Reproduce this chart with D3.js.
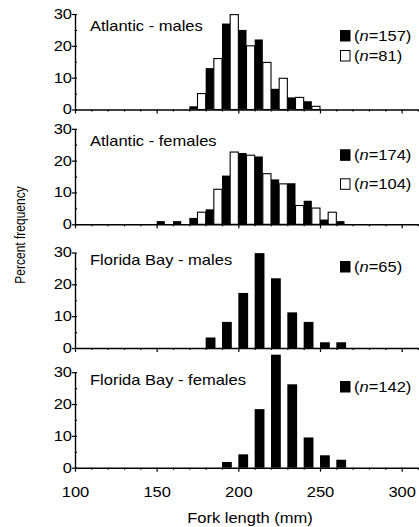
<!DOCTYPE html>
<html>
  <head>
    <meta charset="utf-8" />
    <title>fork length histograms</title>
    <script src="https://d3js.org/d3.v7.min.js"></script>
    <style>
      body {
        margin: 0;
        background: #fff;
      }
      text {
        font-family: "Liberation Sans", Arial, sans-serif;
        fill: #000;
      }
    </style>
  </head>
  <body>

    <svg id="chart"></svg>

    <script>

      // panel titles and sample sizes
      var titles = ["Atlantic - males", "Atlantic - females", "Florida Bay - males", "Florida Bay - females"];
      var nBlack = [157, 174, 65, 142];
      var nWhite = [81, 104, null, null];

      // bin starts (mm) and percent frequencies
      var atlMaleBins = [170, 180, 190, 200, 210, 220, 230, 240];
      var atlMaleBlack = [1, 13, 27, 25, 22, 6.5, 3.8, 2.6];
      var atlMaleWhite = [5, 16, 29.8, 20, 14.8, 9.8, 3.8, 1];

      var atlFemaleBins = [150, 160, 170, 180, 190, 200, 210, 220, 230, 240, 250, 260];
      var atlFemaleBlack = [1, 1, 2, 4.7, 15.3, 22.4, 21.3, 14.1, 12.9, 7.4, 1.5, 1];
      var atlFemaleWhite = [0, 0, 3.8, 11, 22.7, 21.7, 15.9, 12.7, 5.9, 5.1, 3.8, 0];

      var fbMaleBins = [180, 190, 200, 210, 220, 230, 240, 250, 260];
      var fbMaleBlack = [3.3, 8.2, 17.3, 29.8, 21.9, 11.2, 8.2, 1.8, 1.8];

      var fbFemaleBins = [190, 200, 210, 220, 230, 240, 250, 260];
      var fbFemaleBlack = [1.8, 4.2, 18.4, 35.5, 26.2, 9.5, 3.9, 2.5];

      var xMajor = [100, 150, 200, 250, 300];
      var xMinor = [110, 120, 130, 140, 160, 170, 180, 190, 210, 220, 230, 240, 260, 270, 280, 290, 310];
      var yMajor = [0, 10, 20, 30];
      var yMinor = [5, 15, 25];

      var panels = [
        { bins: atlMaleBins, black: atlMaleBlack, white: atlMaleWhite },
        { bins: atlFemaleBins, black: atlFemaleBlack, white: atlFemaleWhite },
        { bins: fbMaleBins, black: fbMaleBlack, white: null },
        { bins: fbFemaleBins, black: fbFemaleBlack, white: null }
      ];

      // layout per panel: zero line, title offset, legend rows
      var layout = [
        { base: 109.5, titleDy: 17.5, legendY: [30, 50] },
        { base: 224.3, titleDy: 17.5, legendY: [149.3, 178.3] },
        { base: 348, titleDy: 12.7, legendY: [261] },
        { base: 467.7, titleDy: 13, legendY: [381] }
      ];

      var width = 419;
      var height = 527;
      var sx = 1.18; // the original text is a bit wide
      var yPix = 95.5;

      var svg = d3.select("#chart")
        .attr("width", width)
        .attr("height", height);

      var x = d3.scaleLinear()
        .domain([100, 310])
        .range([75, 418]);

      function stretch(sel) {
        sel.each(function() {
          var t = d3.select(this);
          var tx = +t.attr("x") || 0;
          var tr = t.attr("transform") || "";
          t.attr("x", tx / sx).attr("transform", tr + " scale(" + sx + ",1)");
        });
      }

      panels.forEach(function(p, i) {
        var L = layout[i];
        var g = svg.append("g");

        var y = d3.scaleLinear()
          .domain([0, 30])
          .range([L.base, L.base - yPix]);

        // bars
        var half = p.white ? 5 : 6;
        g.selectAll(".black")
          .data(p.bins)
          .enter().append("rect")
          .attr("x", function(d) { return x(d); })
          .attr("width", function(d) { return x(d + half) - x(d); })
          .attr("y", function(d, j) { return y(p.black[j]); })
          .attr("height", function(d, j) { return y(0) - y(p.black[j]); })
          .attr("fill", "#000");

        if (p.white) {
          g.selectAll(".white")
            .data(p.bins.filter(function(d, j) { return p.white[j] > 0; }))
            .enter().append("rect")
            .attr("x", function(d) { return x(d + 5); })
            .attr("width", function(d) { return x(d + 10) - x(d + 5); })
            .attr("y", function(d) { return y(p.white[p.bins.indexOf(d)]); })
            .attr("height", function(d) { return y(0) - y(p.white[p.bins.indexOf(d)]); })
            .attr("fill", "#fff")
            .attr("stroke", "#000")
            .attr("stroke-width", 1.1);
        }

        // x axis
        var xMaj = g.append("g")
          .attr("transform", "translate(0," + y(0) + ")")
          .call(d3.axisBottom(x).tickValues(xMajor).tickSizeInner(4).tickSizeOuter(0).tickPadding(15)
            .tickFormat(i === 3 ? d3.format("d") : ""));
        g.append("g")
          .attr("transform", "translate(0," + y(0) + ")")
          .call(d3.axisBottom(x).tickValues(xMinor).tickSizeInner(2).tickSizeOuter(0).tickFormat(""))
          .select(".domain").remove();

        // y axis
        var yMaj = g.append("g")
          .attr("transform", "translate(" + x(100) + ",0)")
          .call(d3.axisLeft(y).tickValues(yMajor).tickSizeInner(3).tickSizeOuter(0).tickPadding(0));
        g.append("g")
          .attr("transform", "translate(" + x(100) + ",0)")
          .call(d3.axisRight(y).tickValues(yMajor).tickSizeInner(2).tickSizeOuter(0).tickFormat(""))
          .select(".domain").remove();
        g.append("g")
          .attr("transform", "translate(" + x(100) + ",0)")
          .call(d3.axisRight(y).tickValues(yMinor).tickSizeInner(2).tickSizeOuter(0).tickFormat(""))
          .select(".domain").remove();

        g.selectAll(".domain").attr("stroke-width", 1.4);
        g.selectAll(".tick line").attr("stroke-width", 1.2);

        [xMaj, yMaj].forEach(function(a) {
          a.selectAll("text")
            .attr("font-family", "Liberation Sans, Arial, sans-serif")
            .attr("font-size", 14)
            .attr("fill", "#000")
            .call(stretch);
        });

        // title
        g.append("text")
          .attr("x", 90)
          .attr("y", y(30) + L.titleDy)
          .attr("font-size", 14)
          .text(titles[i])
          .call(stretch);

        // legend
        var rows = [{ fill: "#000", n: nBlack[i] }];
        if (nWhite[i] !== null) rows.push({ fill: "#fff", n: nWhite[i] });
        rows.forEach(function(r, k) {
          var ly = L.legendY[k];
          g.append("rect")
            .attr("x", 340.5)
            .attr("y", ly + 0.5)
            .attr("width", 9.5)
            .attr("height", 10.5)
            .attr("fill", r.fill)
            .attr("stroke", "#000")
            .attr("stroke-width", 1);
          var t = g.append("text")
            .attr("x", 354)
            .attr("y", ly + 11)
            .attr("font-size", 14);
          t.append("tspan").text("(");
          t.append("tspan").attr("font-style", "italic").text("n");
          t.append("tspan").text("=" + r.n + ")");
          t.call(stretch);
        });
      });

      // axis titles
      svg.append("text")
        .attr("transform", "translate(25,235) scale(" + sx + ",1) rotate(-90)")
        .attr("text-anchor", "middle")
        .attr("font-size", 12)
        .text("Percent frequency");

      svg.append("text")
        .attr("x", 250)
        .attr("y", 523)
        .attr("text-anchor", "middle")
        .attr("font-size", 14)
        .text("Fork length (mm)")
        .call(stretch);

    </script>

  </body>
</html>
